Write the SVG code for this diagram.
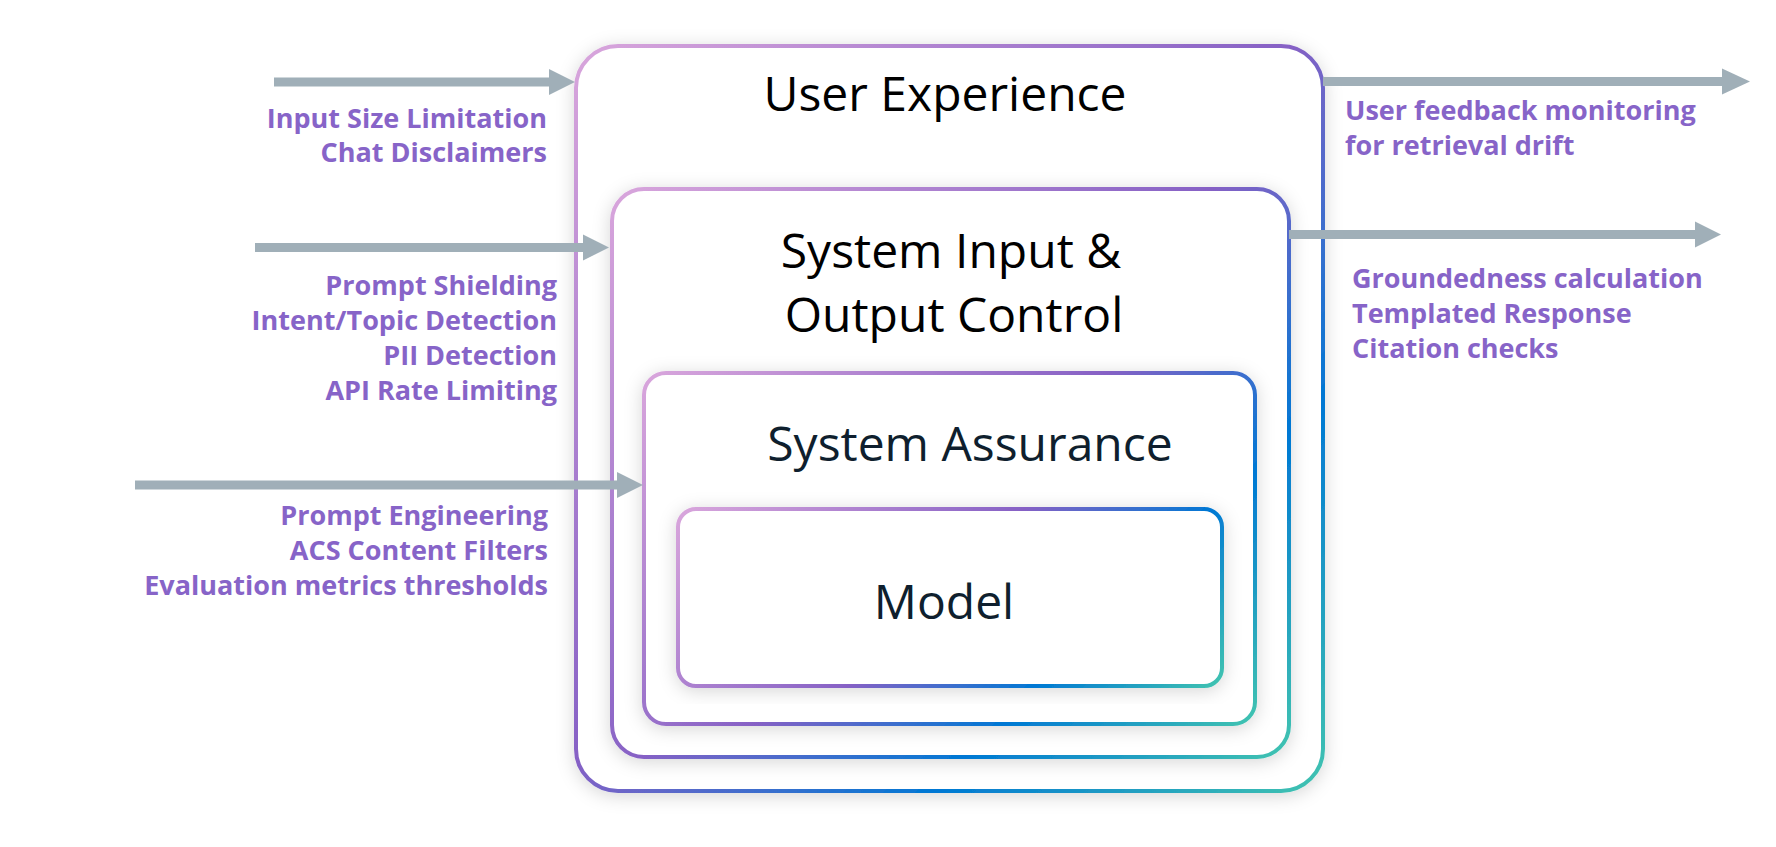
<svg xmlns="http://www.w3.org/2000/svg" width="1776" height="847" viewBox="0 0 1776 847">
  <style>
    .box { fill: #FFFFFF; stroke-width: 4; filter: url(#sh); }
    .title { font-family: "Open Sans", "Noto Sans", "Liberation Sans", sans-serif; font-size: 48px; font-weight: 500; text-anchor: middle; }
    .lbl { font-family: "Open Sans", "Noto Sans", "Liberation Sans", sans-serif; font-size: 27px; font-weight: 700; fill: #8764C8; }
    .r { text-anchor: end; }
    .arr { stroke: #A0AFB8; stroke-width: 9; fill: none; }
    .head { fill: #A0AFB8; }
  </style>
  <defs>
    <filter id="sh" x="-10%" y="-10%" width="120%" height="120%">
      <feDropShadow dx="0" dy="3" stdDeviation="9" flood-color="#000000" flood-opacity="0.16"/>
    </filter>
    <linearGradient id="gOuter" gradientUnits="userSpaceOnUse" x1="576" y1="46" x2="1322" y2="792">
      <stop offset="0" stop-color="#D9A6DC"/>
      <stop offset="0.48" stop-color="#8661C5"/>
      <stop offset="0.74" stop-color="#0078D4"/>
      <stop offset="1" stop-color="#41C4B0"/>
    </linearGradient>
    <linearGradient id="gMid" gradientUnits="userSpaceOnUse" x1="612" y1="189" x2="1234.5" y2="811.5">
      <stop offset="0" stop-color="#D9A6DC"/>
      <stop offset="0.48" stop-color="#8661C5"/>
      <stop offset="0.74" stop-color="#0078D4"/>
      <stop offset="1" stop-color="#41C4B0"/>
    </linearGradient>
    <linearGradient id="gSA" gradientUnits="userSpaceOnUse" x1="644" y1="373" x2="1125" y2="854">
      <stop offset="0" stop-color="#D9A6DC"/>
      <stop offset="0.48" stop-color="#8661C5"/>
      <stop offset="0.74" stop-color="#0078D4"/>
      <stop offset="1" stop-color="#41C4B0"/>
    </linearGradient>
    <linearGradient id="gModel" gradientUnits="userSpaceOnUse" x1="678" y1="509" x2="1038.5" y2="869.5">
      <stop offset="0" stop-color="#D9A6DC"/>
      <stop offset="0.48" stop-color="#8661C5"/>
      <stop offset="0.74" stop-color="#0078D4"/>
      <stop offset="1" stop-color="#41C4B0"/>
    </linearGradient>
  </defs>

  <g id="user-experience">
    <rect class="box" x="576" y="46" width="747" height="745" rx="42" ry="42" stroke="url(#gOuter)"/>
    <text class="title" x="945" y="111" fill="#000000">User Experience</text>
  </g>

  <g id="system-io-control">
    <rect class="box" x="612" y="189" width="677" height="568" rx="32" ry="32" stroke="url(#gMid)"/>
    <text class="title" x="951" y="268" fill="#000000">System Input &amp;</text>
    <text class="title" x="954" y="332" fill="#000000">Output Control</text>
  </g>

  <g id="system-assurance">
    <rect class="box" x="644" y="373" width="611" height="351" rx="22" ry="22" stroke="url(#gSA)"/>
    <text class="title" x="970" y="461" fill="#0F1F2E">System Assurance</text>
  </g>

  <g id="model">
    <rect class="box" x="678" y="509" width="544" height="177" rx="18" ry="18" stroke="url(#gModel)"/>
    <text class="title" x="944" y="619" fill="#0F1F2E">Model</text>
  </g>

  <g id="connectors">
    <line class="arr" x1="274" y1="82" x2="551" y2="82"/>
    <polygon class="head" points="549,69 575,82 549,95"/>
    <line class="arr" x1="255" y1="247.5" x2="585" y2="247.5"/>
    <polygon class="head" points="583,234.5 609,247.5 583,260.5"/>
    <line class="arr" x1="135" y1="485" x2="619" y2="485"/>
    <polygon class="head" points="617,472 643,485 617,498"/>
    <line class="arr" x1="1323" y1="81.5" x2="1724" y2="81.5"/>
    <polygon class="head" points="1722,68.5 1750,81.5 1722,94.5"/>
    <line class="arr" x1="1289" y1="234.5" x2="1697" y2="234.5"/>
    <polygon class="head" points="1695,221.5 1721,234.5 1695,247.5"/>
  </g>

  <g id="labels-left-ux">
    <text class="lbl r" x="547" y="128">Input Size Limitation</text>
    <text class="lbl r" x="547" y="162">Chat Disclaimers</text>
  </g>
  <g id="labels-left-io">
    <text class="lbl r" x="557" y="295">Prompt Shielding</text>
    <text class="lbl r" x="557" y="330">Intent/Topic Detection</text>
    <text class="lbl r" x="557" y="365">PII Detection</text>
    <text class="lbl r" x="557" y="400">API Rate Limiting</text>
  </g>
  <g id="labels-left-sa">
    <text class="lbl r" x="548" y="525">Prompt Engineering</text>
    <text class="lbl r" x="548" y="560">ACS Content Filters</text>
    <text class="lbl r" x="548" y="595">Evaluation metrics thresholds</text>
  </g>
  <g id="labels-right-ux">
    <text class="lbl" x="1345" y="120">User feedback monitoring</text>
    <text class="lbl" x="1345" y="155">for retrieval drift</text>
  </g>
  <g id="labels-right-io">
    <text class="lbl" x="1352" y="288">Groundedness calculation</text>
    <text class="lbl" x="1352" y="323">Templated Response</text>
    <text class="lbl" x="1352" y="358">Citation checks</text>
  </g>
</svg>
